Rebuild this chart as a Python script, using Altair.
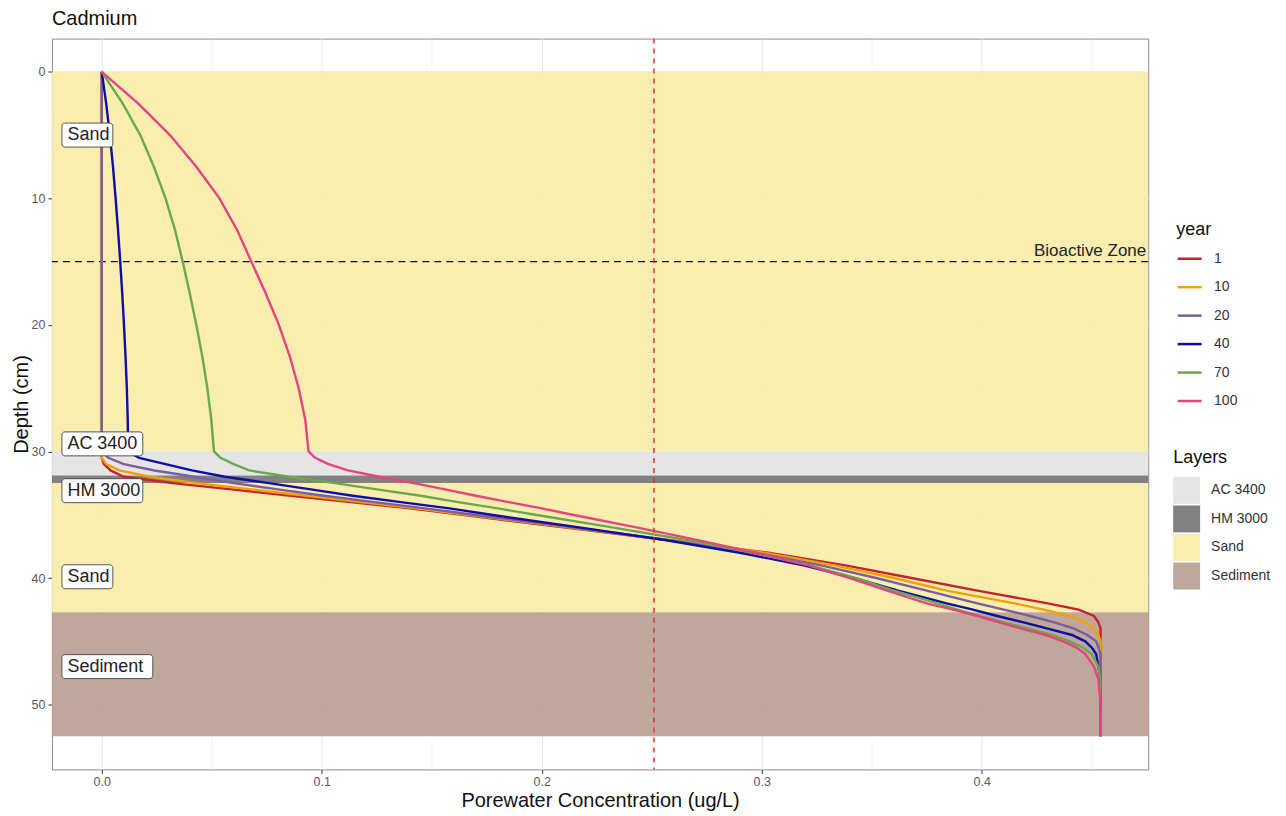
import altair as alt
import pandas as pd

# ---------------- data ----------------
years = ["1", "10", "20", "40", "70", "100"]
year_colors = ["#C8202C", "#F2A007", "#7B5E9E", "#0D0DA8", "#6AA84F", "#E5447E"]

depths = [0, 2.5, 5, 7.5, 10, 12.5, 15, 17.5, 20, 22.5, 25, 27.5, 30,
          30.5, 31, 31.5, 32, 32.5, 33, 33.5, 34, 34.5, 35,
          36, 37, 38, 39, 40, 41, 42,
          42.5, 43, 43.5, 44, 44.5, 45, 45.5, 46,
          47, 48, 50, 52.5]

conc_y1 = [0] * 13 + [0.0, 0.001, 0.004, 0.010, 0.032, 0.059, 0.086, 0.113, 0.140, 0.164,
                      0.210, 0.257, 0.303, 0.338, 0.368, 0.398, 0.430,
                      0.444, 0.451, 0.453, 0.454, 0.454, 0.454, 0.454, 0.454,
                      0.454, 0.454, 0.454, 0.454]
conc_y10 = [0] * 13 + [0.0, 0.002, 0.008, 0.022, 0.043, 0.068, 0.093, 0.118, 0.143, 0.166,
                       0.212, 0.258, 0.301, 0.333, 0.360, 0.384, 0.415,
                       0.428, 0.440, 0.447, 0.451, 0.453, 0.454, 0.454, 0.454,
                       0.454, 0.454, 0.454, 0.454]
conc_y20 = [0] * 13 + [0.003, 0.010, 0.024, 0.042, 0.060, 0.080, 0.101, 0.124, 0.147, 0.169,
                       0.214, 0.257, 0.297, 0.327, 0.352, 0.375, 0.398,
                       0.410, 0.422, 0.433, 0.442, 0.448, 0.452, 0.453, 0.454,
                       0.454, 0.454, 0.454, 0.454]
conc_y40 = [0.0, 0.002, 0.0037, 0.0051, 0.0063, 0.0074, 0.0084, 0.0093, 0.0101, 0.0108, 0.0114, 0.0118, 0.012,
            0.017, 0.029, 0.041, 0.056, 0.076, 0.095, 0.114, 0.136, 0.158, 0.177,
            0.217, 0.256, 0.290, 0.319, 0.342, 0.362, 0.384,
            0.396, 0.407, 0.419, 0.430, 0.441, 0.447, 0.450, 0.452,
            0.453, 0.454, 0.454, 0.454]
conc_y70 = [0.0, 0.0095, 0.0175, 0.0237, 0.029, 0.0333, 0.0368, 0.040, 0.043, 0.0457, 0.048, 0.0498, 0.051,
            0.054, 0.060, 0.067, 0.085, 0.106, 0.125, 0.145, 0.162, 0.180, 0.197,
            0.232, 0.266, 0.296, 0.322, 0.343, 0.360, 0.380,
            0.389, 0.399, 0.410, 0.421, 0.432, 0.440, 0.446, 0.450,
            0.453, 0.454, 0.454, 0.454]
conc_y100 = [0.0, 0.0165, 0.031, 0.043, 0.0535, 0.0615, 0.068, 0.0745, 0.0805, 0.0855, 0.0895, 0.0925, 0.094,
             0.097, 0.103, 0.112, 0.126, 0.142, 0.156, 0.170, 0.185, 0.200, 0.214,
             0.243, 0.271, 0.297, 0.321, 0.340, 0.357, 0.375,
             0.387, 0.398, 0.408, 0.418, 0.429, 0.437, 0.443, 0.447,
             0.451, 0.453, 0.454, 0.454]

layer_names = ["Sand", "AC 3400", "HM 3000", "Sand", "Sediment"]
layer_top = [0, 30, 31.9, 32.5, 42.7]
layer_bottom = [30, 31.9, 32.5, 42.7, 52.5]
layer_domain = ["AC 3400", "HM 3000", "Sand", "Sediment"]
layer_colors = ["#E2E2E2", "#737373", "#F9EBA7", "#B89E90"]

label_names = ["Sand", "AC 3400", "HM 3000", "Sand", "Sediment"]
label_depths = [5.0, 29.4, 33.1, 39.9, 47.0]

threshold_conc = [0.251]
bioactive_depth = [15]
bioactive_label = ["Bioactive Zone"]

x_ticks = [0.0, 0.05, 0.1, 0.15, 0.2, 0.25, 0.3, 0.35, 0.4, 0.45]
y_ticks = [0, 5, 10, 15, 20, 25, 30, 35, 40, 45, 50]

# ---------------- frames ----------------
series = [conc_y1, conc_y10, conc_y20, conc_y40, conc_y70, conc_y100]
rows = []
for yr, vals in zip(years, series):
    for d, c in zip(depths, vals):
        rows.append({"year": yr, "depth": d, "conc": c})
lines_df = pd.DataFrame(rows)
layers_df = pd.DataFrame({"layer": layer_names, "top": layer_top, "bottom": layer_bottom})
labels_df = pd.DataFrame({"label": label_names, "ld": label_depths})
thr_df = pd.DataFrame({"conc": threshold_conc})
bio_df = pd.DataFrame({"depth": bioactive_depth, "label": bioactive_label})

W, H = 1098, 732
xdom = [-0.02265, 0.47565]
ydom = [-2.625, 55.125]
pxu = (xdom[1] - xdom[0]) / W
pyu = (ydom[1] - ydom[0]) / H
FONT = "Liberation Sans"

minor_x = "abs(datum.value*10 - round(datum.value*10)) > 0.01"
minor_y = "datum.value % 10 != 0"

x_axis = alt.Axis(
    title="Porewater Concentration (ug/L)", values=x_ticks,
    labelExpr=f"{minor_x} ? '' : format(datum.value, '.1f')",
    grid=True, gridColor="#E6E6E6",
    gridWidth={"condition": {"test": minor_x, "value": 0.5}, "value": 1},
    tickOpacity={"condition": {"test": minor_x, "value": 0}, "value": 1},
    tickColor="#333333", tickSize=4, domain=False,
    labelColor="#5a5a5a", labelFontSize=12.5, labelPadding=2,
    titleFontSize=20, titleFontWeight="normal", titleColor="#111111",
    titleY=37, titleBaseline="alphabetic",
)
y_axis = alt.Axis(
    title="Depth (cm)", values=y_ticks,
    labelExpr=f"{minor_y} ? '' : datum.label",
    grid=True, gridColor="#E6E6E6",
    gridWidth={"condition": {"test": minor_y, "value": 0.5}, "value": 1},
    tickOpacity={"condition": {"test": minor_y, "value": 0}, "value": 1},
    tickColor="#333333", tickSize=4, domain=False,
    labelColor="#5a5a5a", labelFontSize=12.5, labelPadding=3,
    titleFontSize=20, titleFontWeight="normal", titleColor="#111111",
    titleX=-30, titleY=H / 2, titleBaseline="middle", titleAlign="center",
)
xs = alt.Scale(domain=xdom, nice=False, zero=False)
ys = alt.Scale(domain=ydom, nice=False, zero=False, reverse=True)

rects = alt.Chart(layers_df).mark_rect(opacity=0.9).encode(
    x=alt.value(0), x2=alt.value(W),
    y=alt.Y("top:Q", scale=ys, axis=y_axis),
    y2="bottom:Q",
    fill=alt.Fill("layer:N", scale=alt.Scale(domain=layer_domain, range=layer_colors),
                  legend=alt.Legend(title="Layers", orient="none", legendX=1123, legendY=411,
                                    symbolType="square", symbolSize=729, symbolStrokeWidth=0,
                                    symbolOpacity=0.9,
                                    labelFontSize=14, labelColor="#333333", labelOffset=11,
                                    titleFontSize=18, titleFontWeight="normal", titleColor="#111111",
                                    titlePadding=10, rowPadding=1.6)),
)

bio_rule = alt.Chart(bio_df).mark_rule(color="#111111", strokeWidth=1.4, strokeDash=[7, 5]).encode(
    y=alt.Y("depth:Q", scale=ys, axis=y_axis))
bio_text = alt.Chart(bio_df).mark_text(align="right", baseline="bottom", dy=-2, fontSize=17,
                                       color="#222222").encode(
    x=alt.value(W - 2), y=alt.Y("depth:Q", scale=ys, axis=y_axis), text="label:N")

lines = alt.Chart(lines_df).mark_line(strokeWidth=2.4).encode(
    x=alt.X("conc:Q", scale=xs, axis=x_axis),
    y=alt.Y("depth:Q", scale=ys, axis=y_axis),
    order=alt.Order("depth:Q"),
    color=alt.Color("year:N", scale=alt.Scale(domain=years, range=year_colors),
                    legend=alt.Legend(title="year", orient="none", legendX=1126, legendY=183,
                                      symbolType="stroke", symbolSize=576, symbolStrokeWidth=2.5,
                                      labelFontSize=14, labelColor="#333333", labelOffset=11,
                                      titleFontSize=18, titleFontWeight="normal", titleColor="#111111",
                                      titlePadding=6, rowPadding=7.5)),
)

thr_rule = alt.Chart(thr_df).mark_rule(color="#E3262A", strokeWidth=1.4, strokeDash=[5, 5]).encode(
    x=alt.X("conc:Q", scale=xs, axis=x_axis))

box_x0 = xdom[0] + 10 * pxu
boxes = alt.Chart(labels_df).transform_calculate(
    bx0=f"{box_x0}",
    bx1=f"{box_x0} + (length(datum.label)*10 + 11)*{pxu}",
    by0=f"datum.ld - 12*{pyu}",
    by1=f"datum.ld + 12*{pyu}",
).mark_rect(fill="white", stroke="#444444", strokeWidth=0.9, cornerRadius=3).encode(
    x=alt.X("bx0:Q", scale=xs, axis=x_axis), x2="bx1:Q",
    y=alt.Y("by0:Q", scale=ys, axis=y_axis), y2="by1:Q",
)
box_text = alt.Chart(labels_df).transform_calculate(
    tx=f"{box_x0 + 5.5 * pxu}"
).mark_text(align="left", baseline="middle", fontSize=18, color="#222222").encode(
    x=alt.X("tx:Q", scale=xs, axis=x_axis),
    y=alt.Y("ld:Q", scale=ys, axis=y_axis),
    text="label:N",
)

chart = alt.layer(rects, bio_rule, lines, thr_rule, bio_text, boxes, box_text).properties(
    width=W, height=H,
    title=alt.Title("Cadmium", anchor="start", frame="group", fontSize=20, fontWeight="normal",
                    color="#111111", offset=9),
    autosize=alt.AutoSizeParams(type="none"),
    padding={"left": 44, "top": 30, "right": 130, "bottom": 42},
).configure(font=FONT).configure_view(stroke="#8c8c8c", strokeWidth=1)

chart.save("out.html", embed_options={"renderer": "svg", "actions": False})
